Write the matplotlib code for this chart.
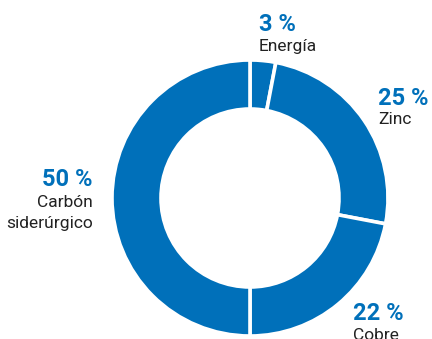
import matplotlib.pyplot as plt

# data
shares = [3, 25, 22, 50]
pct_labels = ['3 %', '25 %', '22 %', '50 %']
names = ['Energía', 'Zinc', 'Cobre', 'Carbón\nsiderúrgico']

blue = '#0070BA'
W, H = 432, 339

plt.rcParams['font.family'] = ['Roboto', 'DejaVu Sans']

fig = plt.figure(figsize=(W / 100, H / 100), dpi=100)
ax = fig.add_axes([0, 0, 1, 1])

# pie in flipped y axis: counterclock=True here gives clockwise on screen
cx, cy, r_out, r_in = 250, 198, 138, 89
ax.pie(shares, colors=[blue] * len(shares), startangle=-90, counterclock=True,
       center=(cx, cy), radius=r_out, frame=True,
       wedgeprops=dict(width=r_out - r_in, edgecolor='white', linewidth=2.6))
ax.set_xlim(0, W)
ax.set_ylim(H, 0)
ax.set_aspect('equal')
ax.axis('off')

# labels: (x, baseline of pct, baseline of first name line, align)
pos = [(259, 31, 51, 'left'),
       (378, 105, 124, 'left'),
       (353, 320, 340, 'left'),
       (93, 186, 207, 'right')]
for (x, yp, yn, ha), p, n in zip(pos, pct_labels, names):
    ax.text(x, yp, p, color=blue, fontsize=17, fontweight='bold',
            ha=ha, va='baseline')
    for k, line in enumerate(n.split('\n')):
        ax.text(x, yn + 21 * k, line, color='#222222', fontsize=12.5,
                ha=ha, va='baseline')

plt.savefig('out.png', dpi=100)
